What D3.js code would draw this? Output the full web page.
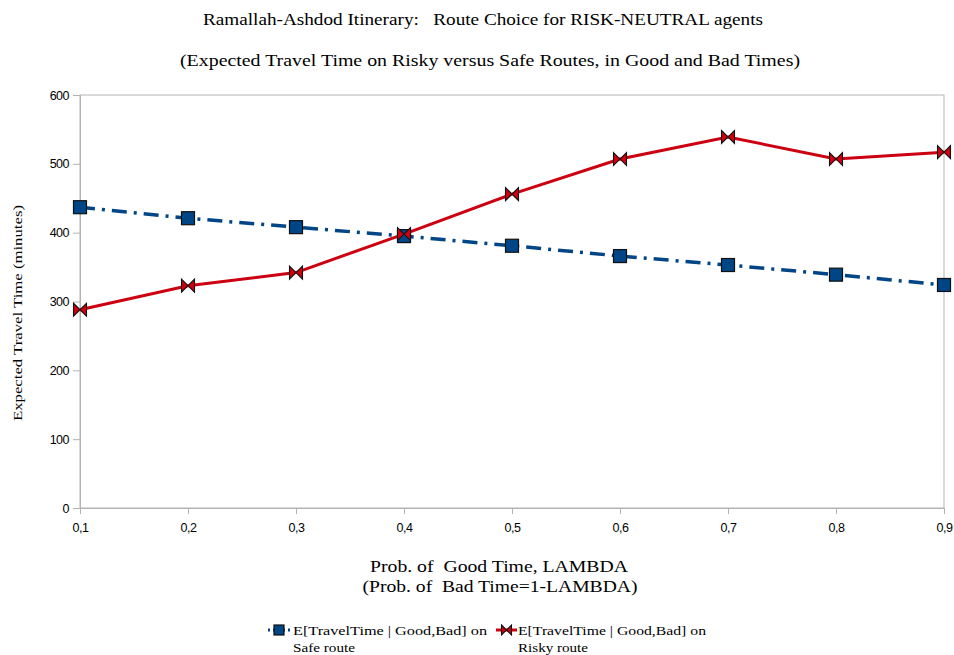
<!DOCTYPE html>
<html>
<head>
<meta charset="utf-8">
<script src="https://cdn.jsdelivr.net/npm/d3@7/dist/d3.min.js"></script>
<style>
  body { margin: 0; background: #fff; }
  svg { display: block; }
  .serif { font-family: "Liberation Serif", "DejaVu Serif", serif; white-space: pre; }
</style>
</head>
<body>
<svg id="chart" width="954" height="655"></svg>
<script>
// Probability of good time (LAMBDA)
const lambdas = [0.1, 0.2, 0.3, 0.4, 0.5, 0.6, 0.7, 0.8, 0.9];
// Expected travel time (minutes)
const safeRoute  = [437, 421, 408, 395, 381, 366, 353, 339, 324];
const riskyRoute = [288, 323, 342, 398, 456, 507, 539, 507, 517];
const yTicks = [0, 100, 200, 300, 400, 500, 600];

const svg = d3.select("#chart");
const m = { left: 80, top: 95, right: 944, bottom: 508 };

const x = d3.scalePoint().domain(lambdas).range([m.left, m.right]);
const y = d3.scaleLinear().domain([0, 600]).range([m.bottom, m.top]);

const fmt = d => String(d).replace(".", ",");

// plot frame
svg.append("rect")
  .attr("x", m.left).attr("y", m.top)
  .attr("width", m.right - m.left).attr("height", m.bottom - m.top)
  .attr("fill", "none").attr("stroke", "#b3b3b3").attr("stroke-width", 1);

// axes
const yAxis = svg.append("g").attr("transform", `translate(${m.left},0)`)
  .call(d3.axisLeft(y).tickValues(yTicks).tickSize(7).tickPadding(4));
const xAxis = svg.append("g").attr("transform", `translate(0,${m.bottom})`)
  .call(d3.axisBottom(x).tickFormat(fmt).tickSize(6).tickPadding(9));
[yAxis, xAxis].forEach(g => {
  g.select(".domain").attr("stroke", "#b3b3b3");
  g.selectAll(".tick line").attr("stroke", "#b3b3b3");
  g.selectAll(".tick text").attr("font-size", 12.5).attr("fill", "#000")
    .attr("font-family", "'Liberation Sans', Arial, sans-serif")
    .style("letter-spacing", "-0.5px");
});

// lines
const line = d3.line().x((d, i) => x(lambdas[i])).y(d => y(d));
svg.append("path").datum(safeRoute)
  .attr("d", line).attr("fill", "none")
  .attr("stroke", "#004586").attr("stroke-width", 3.5)
  .attr("stroke-dasharray", "15,7,3,7");
svg.append("path").datum(riskyRoute)
  .attr("d", line).attr("fill", "none")
  .attr("stroke", "#cc0011").attr("stroke-width", 3);

// markers
const bowtie = (s) => `M${-s},${-s}L${s},${s}L${s},${-s}L${-s},${s}Z`;
function squareMark(g, cx, cy, s) {
  g.append("rect").attr("x", cx - s).attr("y", cy - s)
    .attr("width", 2 * s).attr("height", 2 * s)
    .attr("fill", "#004586").attr("stroke", "#111").attr("stroke-width", 1.2);
}
function bowtieMark(g, cx, cy, s) {
  g.append("path").attr("d", bowtie(s))
    .attr("transform", `translate(${cx},${cy})`)
    .attr("fill", "#cc0011").attr("stroke", "#111").attr("stroke-width", 1.1);
}
const marks = svg.append("g");
safeRoute.forEach((v, i) => squareMark(marks, x(lambdas[i]), y(v), 6.5));
riskyRoute.forEach((v, i) => bowtieMark(marks, x(lambdas[i]), y(v), 6.5));

// text helper: serif text fitted to a given width
function label(parent, tx, ty, str, size, width, anchor) {
  return parent.append("text").attr("class", "serif")
    .attr("xml:space", "preserve")
    .attr("x", tx).attr("y", ty).attr("font-size", size)
    .attr("text-anchor", anchor || "start")
    .attr("textLength", width).attr("lengthAdjust", "spacingAndGlyphs")
    .text(str);
}

// titles
label(svg, 483, 25, "Ramallah-Ashdod Itinerary:   Route Choice for RISK-NEUTRAL agents", 16, 560, "middle");
label(svg, 490, 66, "(Expected Travel Time on Risky versus Safe Routes, in Good and Bad Times)", 16, 620, "middle");

// axis titles
label(svg, 499, 572, "Prob. of  Good Time, LAMBDA", 16, 258, "middle");
label(svg, 500, 592, "(Prob. of  Bad Time=1-LAMBDA)", 16, 275, "middle");

const yl = svg.append("g").attr("transform", "translate(22,313) rotate(-90)");
label(yl, 0, 0, "Expected Travel Time (minutes)", 13, 216, "middle");

// legend
const leg = svg.append("g");
const l1 = 268, l2 = 496, ly = 630;
leg.append("line").attr("x1", l1).attr("x2", l1 + 22).attr("y1", ly).attr("y2", ly)
  .attr("stroke", "#004586").attr("stroke-width", 3).attr("stroke-dasharray", "2,3,12,3,2");
squareMark(leg, l1 + 11, ly, 5);
label(leg, l1 + 25, ly + 4.5, "E[TravelTime | Good,Bad] on", 13, 194);
label(leg, l1 + 25, ly + 22, "Safe route", 13, 62);
leg.append("line").attr("x1", l2).attr("x2", l2 + 21).attr("y1", ly).attr("y2", ly)
  .attr("stroke", "#cc0011").attr("stroke-width", 3);
bowtieMark(leg, l2 + 10.5, ly, 5);
label(leg, l2 + 22, ly + 4.5, "E[TravelTime | Good,Bad] on", 13, 188);
label(leg, l2 + 22, ly + 22, "Risky route", 13, 70);
</script>
</body>
</html>
